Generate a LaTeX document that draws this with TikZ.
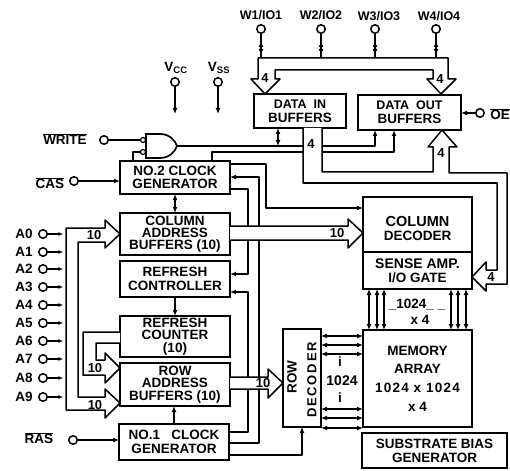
\documentclass[tikz,border=0pt]{standalone}
\usepackage{fontspec}
\setmainfont{Liberation Sans}[BoldFont={Liberation Sans Bold}]
\usetikzlibrary{arrows.meta,calc}
\tikzset{
  x=1pt,y=-1pt,
  wire/.style={line width=1.5pt,line join=round},
  sig/.style={wire,-{Latex[length=6pt,width=5pt]}},
  dbl/.style={wire,{Latex[length=6pt,width=5pt]}-{Latex[length=6pt,width=5pt]}},
  block/.style={draw,line width=1.7pt,fill=white,inner sep=0pt,outer sep=0pt,align=center,
    font=\fontsize{13.5}{13.7}\selectfont\bfseries},
  pin/.style={circle,draw,line width=1.5pt,fill=white,minimum size=8.5pt,inner sep=0pt,outer sep=0pt},
  lbl/.style={inner sep=0pt,outer sep=0pt,align=center,font=\fontsize{13.5}{14}\selectfont\bfseries},
  toplbl/.style={lbl,font=\fontsize{12.5}{14}\selectfont\bfseries},
  buslbl/.style={inner sep=0pt,outer sep=0pt,font=\fontsize{13}{13}\selectfont\bfseries},
  busline/.style={line width=1.5pt,line join=round,fill=white},
}
\newcommand{\blockat}[5]{\node[block,minimum width=#3,minimum height=#4] (#1) at (#2) {#5};}
\begin{document}
\begin{tikzpicture}
\useasboundingbox (0,0) rectangle (510,470);
\coordinate (gatetip) at (177,146);
\blockat{clktwo}{175,177.5}{110pt}{33pt}{NO.2 CLOCK\\GENERATOR}
\blockat{coladdr}{175,234}{110pt}{42pt}{COLUMN\\[-1.5pt]ADDRESS\\[-1.5pt]BUFFERS (10)}
\blockat{refctl}{175,279}{110pt}{36pt}{REFRESH\\CONTROLLER}
\blockat{refcnt}{175,336.5}{110pt}{41pt}{REFRESH\\[-1.5pt]COUNTER\\[-1.5pt](10)}
\blockat{rowaddr}{175,384.5}{110pt}{43pt}{ROW\\[-1.5pt]ADDRESS\\[-1.5pt]BUFFERS (10)}
\blockat{clkone}{174,442}{110pt}{36pt}{NO.1\ \ \ CLOCK\\GENERATOR}
\blockat{datain}{300,111}{92pt}{34pt}{\fontsize{12.5}{13.5}\selectfont DATA\ \ IN\\BUFFERS}
\blockat{dataout}{409.5,112.5}{103pt}{35pt}{\fontsize{12.5}{13.5}\selectfont DATA\ \ OUT\\BUFFERS}
\blockat{coldec}{417.5,224.5}{109pt}{55pt}{\fontsize{14.5}{14.5}\selectfont\rule{0pt}{18pt}COLUMN\\DECODER}
\blockat{sense}{417.5,270.5}{109pt}{37pt}{\fontsize{14}{14.5}\selectfont SENSE AMP.\\I/O GATE}
\blockat{memory}{417.5,378.5}{109pt}{97pt}{MEMORY\\[5pt]ARRAY\\[5pt]{\addfontfeature{LetterSpace=9}1024 x 1024}\\[5pt]x 4}
\blockat{rowdec}{302,378}{38pt}{98pt}{}
\blockat{subst}{434.5,450.5}{145pt}{35pt}{\fontsize{13.5}{14.5}\selectfont SUBSTRATE BIAS\\GENERATOR}
\node[lbl,rotate=90] (rowtxt) at (292,377) {ROW};
\node[lbl,rotate=90,font=\fontsize{13}{13}\selectfont\bfseries\addfontfeature{LetterSpace=14}] (dectxt) at (312,380) {DECODER};
% pins and labels
\foreach \n/\t/\yy in {a0/A0/234,a1/A1/252,a2/A2/269,a3/A3/287,a4/A4/305,a5/A5/323,a6/A6/341,a7/A7/359,a8/A8/378,a9/A9/397}{
  \node[pin] (\n) at (43,\yy) {};
  \node[lbl] (t\n) at (24,\yy) {\t};
  \draw[wire,-{Latex[length=5pt,width=4pt]}] (\n.east) -- ++(16,0);
}
\node[pin] (pw) at (104,140) {};
\node[lbl] (tw) at (65,139) {$\overline{\mbox{WRITE}}$};
\node[pin] (pc) at (74,181) {};
\node[lbl] (tc) at (50,183) {$\overline{\mbox{CAS}}$};
\node[pin] (pr) at (73,440) {};
\node[lbl] (tr) at (39,438) {$\overline{\mbox{RAS}}$};
\node[pin] (pvcc) at (175,82) {};
\node[pin] (pvss) at (218,82) {};
\node[lbl] (tvcc) at (176,68) {V\textsubscript{CC}};
\node[lbl] (tvss) at (219,68) {V\textsubscript{SS}};
\node[pin] (pw1) at (261,29) {};
\node[pin] (pw2) at (321,29) {};
\node[pin] (pw3) at (375,29) {};
\node[pin] (pw4) at (436,29) {};
\node[toplbl] (tw1) at (261,15) {W1/IO1};
\node[toplbl] (tw2) at (321,15) {W2/IO2};
\node[toplbl] (tw3) at (379,16) {W3/IO3};
\node[toplbl] (tw4) at (439,16) {W4/IO4};
\node[pin] (poe) at (480,113) {};
\node[lbl] (toe) at (500,114) {$\overline{\mbox{OE}}$};
% supply and control
\draw[sig] (pvcc) -- (175,114);
\draw[sig] (pvss) -- (218,114);
\draw[sig] (pc) -- (clktwo.west |- pc);
\draw[sig] (pr) -- (clkone.west |- pr);
\draw[sig] (poe) -- (dataout.east |- poe);
\draw[dbl] (clktwo) -- (coladdr);
\draw[sig] (refctl.south) -- (refcnt.north);
\draw[sig] (clkone.north) -- (rowaddr.south -| clkone.north);
% gate and its wires
\node[circle,draw,line width=1.2pt,fill=white,minimum size=5pt,inner sep=0pt,outer sep=0pt] (bub1) at (143,140) {};
\node[circle,draw,line width=1.2pt,fill=white,minimum size=5pt,inner sep=0pt,outer sep=0pt] (bub2) at (143,152) {};
\draw[wire] (pw) -- (bub1);
\draw[wire] (clktwo.north -| 133,0) -- (133,152) -- (bub2);
\draw[line width=1.7pt,fill=white] (146,134) -- (160,134) .. controls (169,134) and (175,140) .. (gatetip) .. controls (175,152) and (169,158) .. (160,158) -- (146,158) -- cycle;
\draw[sig] (gatetip) -- (375,146) -- (dataout.south -| 375,0);
\draw[sig] (clktwo.north -| 212,0) -- (212,152) -- (394,152) -- (dataout.south -| 394,0);
\draw[dbl] (datain.south -| 278,0) -- (278,146);
% clock and decoder wires
\draw[sig] (clktwo.east |- 0,164) -- (266,164) -- (266,208) -- (coldec.west |- 0,208);
\draw[sig] (clkone.east |- 0,443) -- (259,443) -- (259,177) -- (clktwo.east |- 0,177);
\draw[sig] (clktwo.east |- 0,189) -- (248,189) -- (248,274) -- (refctl.east |- 0,274);
\draw[sig] (clkone.east |- 0,432) -- (248,432) -- (248,292) -- (refctl.east |- 0,292);
\draw[sig] (clkone.east |- 0,455) -- (302,455) -- (rowdec.south -| 302,0);
% vertical links
\foreach \xx in {369,377,384,451,458,466}{\draw[dbl] (sense.south -| \xx,0) -- (memory.north -| \xx,0);}
\foreach \yy in {336,345,354,409,418,428}{\draw[dbl] (rowdec.east |- 0,\yy) -- (memory.west |- 0,\yy);}
\node[lbl] (n1024a) at (417,305) {\_1024\_ \_};
\node[lbl] (n4a) at (420,320) {x 4};
\node[lbl,font=\fontsize{14}{14}\selectfont\bfseries] (n1024b) at (342,381) {1024};
\node[lbl] (ia) at (340,362) {i};
\node[lbl] (ib) at (340,398) {i};
% top data pins
\foreach \p in {pw1,pw2,pw3,pw4}{
  \draw[wire] (\p.south) -- (\p |- 0,58);
  \draw[dbl] (\p |- 0,41) -- (\p |- 0,55);
}
% top bus
\draw[busline] (433,79) -- (427,79) -- (441,94) -- (456,79) -- (448,79) -- (448,58) -- (258,58) -- (258,79) -- (251,79) -- (265,94) -- (280,79) -- (275,79) -- (275,70) -- (433,70) -- cycle;
\node[buslbl] (d4a) at (265,78) {4};
\node[buslbl] (d4b) at (440,79) {4};
% data bus from the buffers
\draw[busline] (datain.south -| 303,0) -- (303,183) -- (497,183) -- (497,270) -- (486,270) -- (486,262) -- (sense.east |- 0,277) -- (486,291) -- (486,284) -- (507,284) -- (507,173) -- (449,173) -- (449,147) -- (457,147) -- (dataout.south -| 442,0) -- (428,147) -- (433,147) -- (433,172) -- (322,172) -- (datain.south -| 322,0);
\node[buslbl] (d4c) at (311,144) {4};
\node[buslbl] (d4d) at (441,153) {4};
\node[buslbl] (d4e) at (491,277) {4};
% column bus
\draw[busline] (coladdr.east |- 0,226) -- (348,226) -- (348,219) -- (coldec.west |- 0,233) -- (348,248) -- (348,240) -- (coladdr.east |- 0,240);
\node[buslbl] (c10) at (337,233) {10};
% row bus
\draw[busline] (rowaddr.east |- 0,377) -- (268,377) -- (268,369) -- (rowdec.west |- 0,383) -- (268,398) -- (268,389) -- (rowaddr.east |- 0,389);
\node[buslbl] (r10) at (263,383) {10};
% address buses
\draw[busline] (66,228) -- (105,228) -- (105,220) -- (coladdr.west |- 0,234) -- (105,248) -- (105,242) -- (78,242) -- (78,397) -- (105,397) -- (105,389) -- (rowaddr.west |- 0,403) -- (105,418) -- (105,410) -- (66,410) -- cycle;
\node[buslbl] (a10) at (94,235) {10};
\node[buslbl] (b10) at (95,405) {10};
\draw[busline] (refcnt.west |- 0,343) -- (96,343) -- (96,360) -- (105,360) -- (105,353) -- (rowaddr.west |- 0,368) -- (105,383) -- (105,375) -- (83,375) -- (83,332) -- (refcnt.west |- 0,332);
\node[buslbl] (m10) at (95,368) {10};
\end{tikzpicture}
\end{document}
